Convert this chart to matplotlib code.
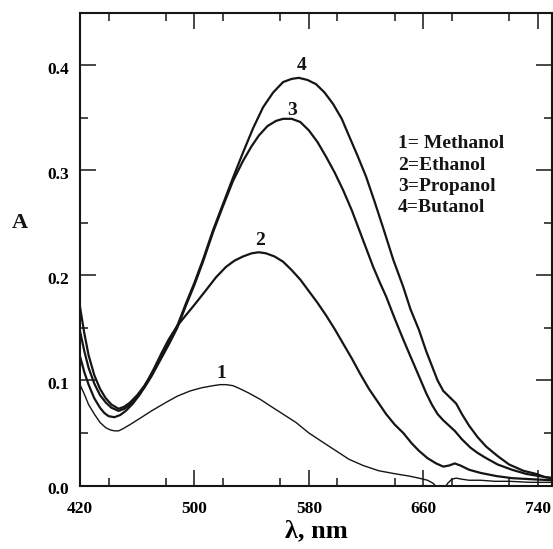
import matplotlib
matplotlib.use("Agg")
import matplotlib.pyplot as plt
import matplotlib.transforms as mtransforms
from matplotlib.ticker import MultipleLocator

plt.rcParams['font.family'] = ['Liberation Serif', 'DejaVu Serif']
plt.rcParams['font.weight'] = 'bold'

# ---- data ----
wl_meth = [420, 423, 426, 430, 434, 438, 441, 444, 447, 450, 455, 462, 470, 480, 488, 497, 505,
           513, 518, 522, 527, 532, 538, 546, 555, 563, 571, 580, 590, 599, 608, 618, 629, 641,
           650, 657, 663, 667, 669, 672, 675, 677, 680, 683, 687, 692, 700, 710, 720, 735, 750]
a_meth = [0.096, 0.087, 0.077, 0.068, 0.060, 0.055, 0.053, 0.052, 0.052, 0.054, 0.058, 0.064,
          0.071, 0.079, 0.085, 0.090, 0.093, 0.095, 0.096, 0.096, 0.095, 0.092, 0.088, 0.082,
          0.074, 0.067, 0.060, 0.050, 0.041, 0.033, 0.025, 0.019, 0.014, 0.011, 0.009, 0.007,
          0.005, 0.002, -0.001, -0.004, -0.002, 0.002, 0.006, 0.007, 0.006, 0.005, 0.005, 0.004,
          0.004, 0.003, 0.003]

wl_eth = [420, 423, 426, 430, 434, 437, 440, 444, 448, 452, 457, 462, 467, 472, 477, 482, 488,
          494, 500, 507, 515, 522, 528, 534, 540, 545, 550, 556, 562, 568, 574, 580, 586, 592,
          598, 604, 610, 616, 622, 628, 634, 640, 646, 652, 657, 663, 669, 674, 678, 682, 686,
          692, 700, 711, 722, 735, 750]
a_eth = [0.123, 0.108, 0.096, 0.083, 0.074, 0.069, 0.066, 0.065, 0.067, 0.071, 0.078, 0.087,
         0.099, 0.112, 0.126, 0.139, 0.152, 0.162, 0.172, 0.184, 0.198, 0.208, 0.214, 0.218,
         0.221, 0.222, 0.221, 0.218, 0.213, 0.205, 0.196, 0.185, 0.174, 0.162, 0.149, 0.135,
         0.121, 0.106, 0.092, 0.080, 0.068, 0.058, 0.050, 0.040, 0.033, 0.026, 0.021, 0.018,
         0.019, 0.021, 0.019, 0.015, 0.012, 0.009, 0.007, 0.006, 0.005]

wl_prop = [420, 423, 426, 430, 434, 438, 442, 447, 451, 455, 460, 465, 470, 476, 482, 488, 494,
           500, 506, 513, 520, 527, 534, 540, 545, 551, 557, 562, 568, 574, 580, 586, 592, 598,
           604, 610, 615, 620, 625, 630, 634, 640, 646, 651, 657, 662, 666, 670, 674, 678, 682,
           687, 693, 698, 704, 712, 722, 732, 741, 750]
a_prop = [0.147, 0.128, 0.112, 0.097, 0.086, 0.079, 0.074, 0.071, 0.073, 0.077, 0.084, 0.093,
          0.104, 0.119, 0.134, 0.150, 0.171, 0.191, 0.213, 0.241, 0.266, 0.290, 0.309, 0.323,
          0.333, 0.342, 0.347, 0.349, 0.349, 0.346, 0.338, 0.327, 0.313, 0.298, 0.281, 0.262,
          0.244, 0.226, 0.208, 0.192, 0.180, 0.159, 0.139, 0.123, 0.104, 0.088, 0.077, 0.068,
          0.062, 0.057, 0.052, 0.044, 0.036, 0.031, 0.026, 0.020, 0.015, 0.011, 0.009, 0.007]

wl_but = [420, 423, 426, 430, 434, 438, 442, 447, 451, 455, 460, 465, 470, 476, 482, 488, 494,
          500, 506, 513, 520, 527, 534, 541, 548, 555, 562, 568, 573, 579, 585, 591, 597, 603,
          608, 614, 620, 626, 632, 639, 646, 651, 657, 662, 666, 670, 674, 677, 680, 683, 687,
          692, 698, 704, 712, 720, 730, 739, 745, 750]
a_but = [0.170, 0.145, 0.124, 0.105, 0.092, 0.083, 0.077, 0.073, 0.075, 0.079, 0.086, 0.095,
         0.106, 0.121, 0.136, 0.152, 0.173, 0.193, 0.215, 0.243, 0.268, 0.293, 0.317, 0.340,
         0.360, 0.374, 0.384, 0.387, 0.388, 0.386, 0.382, 0.374, 0.363, 0.349, 0.333, 0.314,
         0.294, 0.270, 0.245, 0.215, 0.189, 0.168, 0.148, 0.128, 0.114, 0.100, 0.090, 0.086,
         0.082, 0.078, 0.068, 0.057, 0.046, 0.037, 0.028, 0.020, 0.014, 0.011, 0.008, 0.007]

curve_numbers = ['1', '2', '3', '4']
number_x = [519, 546, 568, 575]
number_y = [0.107, 0.233, 0.357, 0.400]
legend_lines = ['1= Methanol', '2=Ethanol', '3=Propanol', '4=Butanol']
legend_y = [0.321, 0.300, 0.280, 0.260]
x_ticks = [420, 500, 580, 660, 740]
y_ticks = [0.0, 0.1, 0.2, 0.3, 0.4]

# ---- figure ----
fig = plt.figure(figsize=(5.53, 5.49), dpi=100)
ax = fig.add_axes([80 / 553, (549 - 485.5) / 549, (552 - 80) / 553, (485.5 - 12.7) / 549])

col = '#151515'
ax.plot(wl_meth, a_meth, color=col, lw=1.0)
ax.plot(wl_eth, a_eth, color=col, lw=1.6)
ax.plot(wl_prop, a_prop, color=col, lw=1.6)
ax.plot(wl_but, a_but, color=col, lw=1.6)

ax.set_xlim(420, 750)
ax.set_ylim(0, 0.45)
ax.set_xticks(x_ticks)
ax.set_yticks(y_ticks)
ax.set_xticklabels([str(t) for t in x_ticks])
ax.set_yticklabels([f"{t:.1f}" for t in y_ticks])
ax.xaxis.set_minor_locator(MultipleLocator(40))
ax.yaxis.set_minor_locator(MultipleLocator(0.05))
ax.tick_params(which='both', direction='in', top=True, right=True, width=1.1, color=col)
ax.tick_params(which='major', length=11.5, labelsize=12.5, pad=8)
ax.tick_params(which='minor', length=5.8)
ax.tick_params(axis='x', which='major', pad=11)
for s in ax.spines.values():
    s.set_linewidth(1.5)
    s.set_color(col)

off = mtransforms.ScaledTranslation(0, -3 / 100, fig.dpi_scale_trans)
for lab in ax.get_yticklabels():
    lab.set_transform(lab.get_transform() + off)

for n, x, y in zip(curve_numbers, number_x, number_y):
    ax.text(x, y, n, ha='center', va='center', fontsize=14, fontweight='bold', color=col)

for t, y in zip(legend_lines, legend_y):
    ax.text(642.5, y, t, ha='left', va='baseline', fontsize=14, fontweight='bold', color=col)

ax.set_xlabel('λ, nm', fontsize=19, fontweight='bold', labelpad=2)
fig.text(20 / 553, (549 - 222.7) / 549, 'A', ha='center', va='center', fontsize=16,
         fontweight='bold', color=col)

fig.savefig('out.png', dpi=100)
